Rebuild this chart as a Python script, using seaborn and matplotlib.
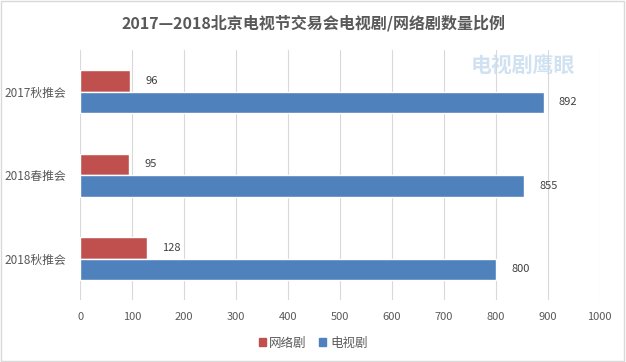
import matplotlib
matplotlib.use('Agg')
import matplotlib.pyplot as plt
import pandas as pd
import seaborn as sns
from matplotlib.patches import Rectangle

sessions = ['2017秋推会', '2018春推会', '2018秋推会']
web_series = [96, 95, 128]
tv_series = [892, 855, 800]
series_names = ['网络剧', '电视剧']
x_ticks = [0, 100, 200, 300, 400, 500, 600, 700, 800, 900, 1000]

df = pd.DataFrame({
    'session': sessions * 2,
    'kind': [series_names[0]] * 3 + [series_names[1]] * 3,
    'count': web_series + tv_series,
})

sns.set_theme(style='white')
plt.rcParams['font.family'] = ['Noto Sans CJK SC', 'DejaVu Sans']

fig = plt.figure(figsize=(6.26, 3.62), dpi=100)
ax = fig.add_axes([0.128, 0.17, 0.83, 0.692])

sns.barplot(data=df, x='count', y='session', hue='kind', hue_order=series_names,
            order=sessions, orient='h', palette=['#C0504D', '#4F81BD'],
            width=0.515, saturation=1, ax=ax, legend=False)

for cont in ax.containers:
    ax.bar_label(cont, padding=11, fontsize=8, color='#404040')

ax.set_xlim(0, 1000)
ax.set_ylim(2.5, -0.5)
ax.set_xticks(x_ticks)
ax.xaxis.grid(True, color='#d9d9d9', linewidth=0.8)
ax.set_axisbelow(True)
for s in ax.spines.values():
    s.set_visible(False)
ax.set_xlabel('')
ax.set_ylabel('')
ax.tick_params(axis='x', labelsize=8, colors='#595959', length=0, pad=8)
ax.tick_params(axis='y', labelsize=8.5, colors='#595959', length=0, pad=10)

handles = [Rectangle((0, 0), 1, 1, color=c) for c in ['#C0504D', '#4F81BD']]
fig.legend(handles, series_names, loc='center', bbox_to_anchor=(0.5, 0.052), ncol=2,
           frameon=False, fontsize=9, handlelength=0.55, handleheight=0.55,
           handletextpad=0.3, columnspacing=1.0, labelcolor='#595959')

fig.text(0.5, 0.935, '2017—2018北京电视节交易会电视剧/网络剧数量比例', ha='center', va='center',
         fontsize=11.5, fontweight='bold', color='#595959')

# faint watermark
fig.text(0.835, 0.82, '电视剧鹰眼', ha='center', va='center', fontsize=15,
         fontweight='bold', style='italic', color='#c5dbee', alpha=0.8)

fig.patches.append(Rectangle((0.002, 0.003), 0.995, 0.994, transform=fig.transFigure,
                             fill=False, edgecolor='#d9d9d9', linewidth=1))

fig.savefig('out.png', dpi=100)
